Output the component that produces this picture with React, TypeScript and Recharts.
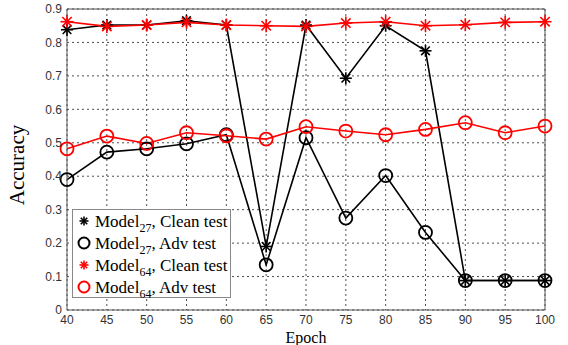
import { LineChart, Line, XAxis, YAxis, CartesianGrid, ReferenceLine } from "recharts"

const epochs = [40, 45, 50, 55, 60, 65, 70, 75, 80, 85, 90, 95, 100]
const m27Clean = [0.838, 0.852, 0.852, 0.865, 0.852, 0.19, 0.852, 0.693, 0.85, 0.775, 0.088, 0.088, 0.088]
const m27Adv = [0.39, 0.472, 0.482, 0.497, 0.524, 0.135, 0.515, 0.275, 0.402, 0.232, 0.088, 0.088, 0.088]
const m64Clean = [0.862, 0.848, 0.852, 0.86, 0.852, 0.85, 0.848, 0.858, 0.862, 0.85, 0.853, 0.86, 0.862]
const m64Adv = [0.482, 0.52, 0.498, 0.53, 0.521, 0.511, 0.548, 0.535, 0.524, 0.54, 0.56, 0.53, 0.55]

const xTicks = epochs
const yTicks = [0, 0.1, 0.2, 0.3, 0.4, 0.5, 0.6, 0.7, 0.8, 0.9]

const data = epochs.map((e, i) => ({
    epoch: e,
    m27Clean: m27Clean[i],
    m27Adv: m27Adv[i],
    m64Clean: m64Clean[i],
    m64Adv: m64Adv[i],
}))

const legendItems = [
    { model: "27", test: "Clean test", color: "#000", shape: "star" },
    { model: "27", test: "Adv test", color: "#000", shape: "circle" },
    { model: "64", test: "Clean test", color: "#f00", shape: "star" },
    { model: "64", test: "Adv test", color: "#f00", shape: "circle" },
]

const serif = "'Liberation Serif', 'Times New Roman', serif"

const Star = (props: any) => {
    const { cx, cy, color, r } = props
    if (cx == null || cy == null) return null
    const d = r * 0.72
    return (
        <g stroke={color} strokeWidth={1.6}>
            <line x1={cx - r} y1={cy} x2={cx + r} y2={cy} />
            <line x1={cx} y1={cy - r} x2={cx} y2={cy + r} />
            <line x1={cx - d} y1={cy - d} x2={cx + d} y2={cy + d} />
            <line x1={cx - d} y1={cy + d} x2={cx + d} y2={cy - d} />
        </g>
    )
}

const Ring = (props: any) => {
    const { cx, cy, color } = props
    if (cx == null || cy == null) return null
    return <circle cx={cx} cy={cy} r={6.5} fill="none" stroke={color} strokeWidth={1.8} />
}

const LegendBox = () => (
    <div
        style={{
            position: "absolute",
            left: 72,
            top: 209,
            width: 159,
            height: 89,
            boxSizing: "border-box",
            background: "#fff",
            border: "1px solid #888",
            padding: "0 0 0 3px",
            fontFamily: serif,
            fontSize: 17,
            color: "#000",
        }}
    >
        {legendItems.map((item, i) => (
            <div key={i} style={{ display: "flex", alignItems: "center", height: 22, whiteSpace: "nowrap" }}>
                <svg width={16} height={16} style={{ marginRight: 3 }}>
                    {item.shape === "star"
                        ? <Star cx={8} cy={8} r={4.5} color={item.color} />
                        : <circle cx={8} cy={8} r={5.5} fill="none" stroke={item.color} strokeWidth={2} />}
                </svg>
                <span style={{ lineHeight: "17px" }}>
                    Model<sub style={{ fontSize: 12, verticalAlign: -5, lineHeight: 0 }}>{item.model}</sub>, {item.test}
                </span>
            </div>
        ))}
    </div>
)

const YLabel = () => (
    <text
        x={24}
        y={165}
        transform="rotate(-90 24 165)"
        textAnchor="middle"
        fontFamily={serif}
        fontSize={21}
        fill="#000"
    >
        Accuracy
    </text>
)

export default function App() {
    const tick = { fontFamily: "'Liberation Sans', Arial, sans-serif", fontSize: 12, fill: "#333" }
    return (
        <div style={{ position: "absolute", left: 0, top: 0, width: 568, height: 345, background: "#fff" }}>
            <LineChart width={568} height={345} data={data} margin={{ top: 9, right: 23, bottom: 15, left: 22 }}>
                <CartesianGrid stroke="#222" strokeDasharray="2 3" strokeWidth={0.8} />
                <XAxis
                    dataKey="epoch"
                    type="number"
                    domain={[40, 100]}
                    ticks={xTicks}
                    tick={tick}
                    tickLine={false}
                    tickSize={3}
                    stroke="#555"
                    height={20}
                    label={{
                        value: "Epoch",
                        position: "insideBottom",
                        offset: -13,
                        style: { fontFamily: serif, fontSize: 16, fill: "#000" },
                    }}
                />
                <YAxis
                    type="number"
                    domain={[0, 0.9]}
                    ticks={yTicks}
                    tick={tick}
                    tickLine={false}
                    tickSize={3}
                    tickFormatter={(v: number) => String(Number(v.toFixed(1)))}
                    stroke="#555"
                    width={45}
                />
                <ReferenceLine y={0.9} stroke="#555" strokeWidth={1} />
                <ReferenceLine x={100} stroke="#555" strokeWidth={1} />
                <Line
                    dataKey="m27Clean"
                    stroke="#000"
                    strokeWidth={1.6}
                    isAnimationActive={false}
                    dot={(p: any) => <Star key={`a${p.index}`} cx={p.cx} cy={p.cy} r={6} color="#000" />}
                />
                <Line
                    dataKey="m27Adv"
                    stroke="#000"
                    strokeWidth={1.6}
                    isAnimationActive={false}
                    dot={(p: any) => <Ring key={`b${p.index}`} cx={p.cx} cy={p.cy} color="#000" />}
                />
                <Line
                    dataKey="m64Clean"
                    stroke="#f00"
                    strokeWidth={1.6}
                    isAnimationActive={false}
                    dot={(p: any) => <Star key={`c${p.index}`} cx={p.cx} cy={p.cy} r={6.5} color="#f00" />}
                />
                <Line
                    dataKey="m64Adv"
                    stroke="#f00"
                    strokeWidth={1.6}
                    isAnimationActive={false}
                    dot={(p: any) => <Ring key={`d${p.index}`} cx={p.cx} cy={p.cy} color="#f00" />}
                />
                <YLabel />
            </LineChart>
            <LegendBox />
        </div>
    )
}
